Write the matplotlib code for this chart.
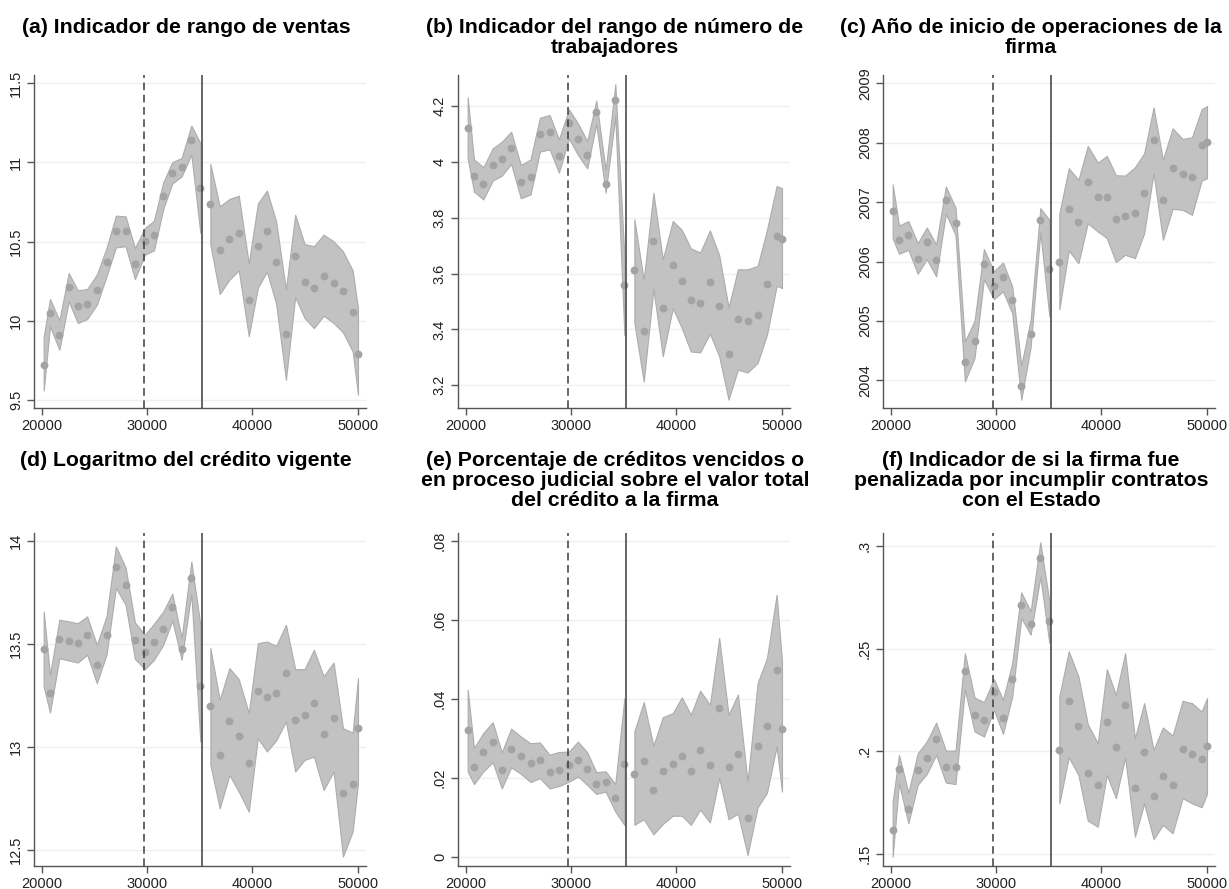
import matplotlib
matplotlib.use("Agg")
import matplotlib.pyplot as plt
import numpy as np

plt.rcParams["font.family"] = ["Liberation Sans", "DejaVu Sans"]

# bin midpoints (left and right of the cutoff)
x_left = [20160, 20760, 21650, 22540, 23400, 24290, 25210, 26130, 27020,
          27940, 28830, 29780, 30640, 31520, 32380, 33270, 34190, 35050]
x_right = [36000, 36890, 37810, 38700, 39650, 40510, 41370, 42250, 43180,
           44060, 44950, 45840, 46760, 47710, 48600, 49520, 50030]

DASHED_X = 29700
CUTOFF_X = 35175

# (a) sales range
a_mean_l = [9.723, 10.049, 9.910, 10.213, 10.091, 10.106, 10.196, 10.369, 10.564,
            10.564, 10.358, 10.503, 10.543, 10.789, 10.932, 10.970, 11.140, 10.838]
a_hi_l = [9.90, 10.137, 10.003, 10.301, 10.192, 10.200, 10.291, 10.459, 10.663,
          10.659, 10.459, 10.585, 10.631, 10.873, 11.000, 11.027, 11.231, 11.121]
a_lo_l = [9.56, 9.965, 9.818, 10.122, 9.986, 10.011, 10.101, 10.280, 10.463,
          10.470, 10.263, 10.417, 10.444, 10.705, 10.865, 10.911, 11.048, 10.554]
a_mean_r = [10.737, 10.444, 10.518, 10.556, 10.133, 10.472, 10.564, 10.373, 9.918,
            10.411, 10.247, 10.209, 10.284, 10.236, 10.186, 10.057, 9.792]
a_hi_r = [10.989, 10.722, 10.768, 10.789, 10.360, 10.739, 10.821, 10.627, 10.196,
          10.669, 10.484, 10.470, 10.543, 10.501, 10.438, 10.318, 10.080]
a_lo_r = [10.480, 10.169, 10.259, 10.318, 9.902, 10.207, 10.310, 10.108, 9.628,
          10.150, 10.017, 9.954, 10.032, 9.986, 9.927, 9.807, 9.534]

# (b) workers range
b_mean_l = [4.121, 3.950, 3.921, 3.988, 4.010, 4.049, 3.929, 3.944, 4.098,
            4.106, 4.020, 4.137, 4.082, 4.024, 4.177, 3.921, 4.220, 3.560]
b_hi_l = [4.230, 4.008, 3.980, 4.048, 4.071, 4.107, 3.988, 4.008, 4.157,
          4.167, 4.080, 4.187, 4.137, 4.074, 4.218, 3.970, 4.277, 3.661]
b_lo_l = [4.012, 3.893, 3.865, 3.932, 3.950, 3.992, 3.869, 3.883, 4.036,
          4.044, 3.961, 4.083, 4.024, 3.976, 4.135, 3.889, 4.161, 3.380]
b_mean_r = [3.612, 3.395, 3.715, 3.475, 3.630, 3.575, 3.505, 3.496, 3.569,
            3.485, 3.312, 3.436, 3.430, 3.451, 3.564, 3.734, 3.724]
b_hi_r = [3.794, 3.577, 3.889, 3.651, 3.788, 3.756, 3.690, 3.675, 3.754,
          3.666, 3.479, 3.615, 3.615, 3.627, 3.756, 3.913, 3.905]
b_lo_r = [3.423, 3.214, 3.544, 3.304, 3.476, 3.405, 3.321, 3.318, 3.385,
          3.304, 3.149, 3.256, 3.246, 3.280, 3.381, 3.556, 3.548]

# (c) start year
c_mean_l = [2006.848, 2006.360, 2006.450, 2006.040, 2006.321, 2006.018, 2007.038,
            2006.657, 2004.308, 2004.667, 2005.967, 2005.586, 2005.738, 2005.357,
            2003.899, 2004.785, 2006.696, 2005.878]
c_hi_l = [2007.30, 2006.606, 2006.68, 2006.31, 2006.573, 2006.29, 2007.262,
          2006.909, 2004.656, 2005.003, 2006.209, 2005.833, 2005.984, 2005.581,
          2004.247, 2005.020, 2006.898, 2006.702]
c_lo_l = [2006.39, 2006.130, 2006.197, 2005.794, 2006.040, 2005.749, 2006.803,
          2006.45, 2003.983, 2004.376, 2005.704, 2005.368, 2005.497, 2005.132,
          2003.675, 2004.561, 2006.489, 2005.076]
c_mean_r = [2005.996, 2006.881, 2006.668, 2007.341, 2007.094, 2007.094, 2006.719,
            2006.775, 2006.825, 2007.161, 2008.041, 2007.033, 2007.571, 2007.470,
            2007.430, 2007.969, 2008.013]
c_hi_r = [2006.81, 2007.571, 2007.374, 2007.946, 2007.666, 2007.778, 2007.453,
          2007.447, 2007.587, 2007.823, 2008.596, 2007.711, 2008.243, 2008.064,
          2008.092, 2008.563, 2008.619]
c_lo_r = [2005.20, 2006.186, 2005.973, 2006.646, 2006.506, 2006.394, 2005.990,
          2006.113, 2006.057, 2006.478, 2007.487, 2006.365, 2006.887, 2006.870,
          2006.786, 2007.363, 2007.402]

# (d) log credit
d_mean_l = [13.477, 13.260, 13.525, 13.514, 13.506, 13.543, 13.397, 13.545, 13.874,
            13.785, 13.520, 13.459, 13.512, 13.574, 13.682, 13.475, 13.820, 13.297]
d_hi_l = [13.658, 13.350, 13.618, 13.610, 13.601, 13.634, 13.496, 13.634, 13.974,
          13.872, 13.605, 13.545, 13.598, 13.658, 13.744, 13.529, 13.900, 13.593]
d_lo_l = [13.294, 13.167, 13.431, 13.420, 13.410, 13.448, 13.310, 13.448, 13.772,
          13.691, 13.427, 13.378, 13.423, 13.496, 13.614, 13.423, 13.744, 13.026]
d_mean_r = [13.201, 12.962, 13.124, 13.054, 12.921, 13.273, 13.245, 13.260, 13.358,
            13.132, 13.156, 13.213, 13.064, 13.141, 12.775, 12.820, 13.094]
d_hi_r = [13.480, 13.229, 13.383, 13.329, 13.164, 13.504, 13.512, 13.491, 13.593,
          13.378, 13.378, 13.472, 13.343, 13.410, 13.091, 13.070, 13.334]
d_lo_r = [12.913, 12.702, 12.864, 12.783, 12.686, 13.043, 12.978, 13.031, 13.124,
          12.881, 12.937, 12.953, 12.791, 12.880, 12.468, 12.589, 12.824]

# (e) share of overdue credit
e_mean_l = [0.0321, 0.0229, 0.0267, 0.0291, 0.0221, 0.0274, 0.0257, 0.0239, 0.0245,
            0.0216, 0.0221, 0.0232, 0.0246, 0.0224, 0.0186, 0.0190, 0.0149, 0.0235]
e_hi_l = [0.0423, 0.0276, 0.0314, 0.0341, 0.0265, 0.0325, 0.0305, 0.0288, 0.0290,
          0.0259, 0.0266, 0.0267, 0.0292, 0.0265, 0.0215, 0.0217, 0.0185, 0.0402]
e_lo_l = [0.0217, 0.0185, 0.0217, 0.0240, 0.0174, 0.0227, 0.0211, 0.0190, 0.0200,
          0.0174, 0.0180, 0.0191, 0.0204, 0.0183, 0.0160, 0.0166, 0.0115, 0.0082]
e_mean_r = [0.0210, 0.0244, 0.0169, 0.0218, 0.0235, 0.0255, 0.0219, 0.0271, 0.0233,
            0.0378, 0.0229, 0.0260, 0.0099, 0.0282, 0.0332, 0.0472, 0.0325]
e_hi_r = [0.0318, 0.0392, 0.0282, 0.0354, 0.0364, 0.0404, 0.0360, 0.0421, 0.0385,
          0.0554, 0.0360, 0.0411, 0.0191, 0.0440, 0.0503, 0.0663, 0.0495]
e_lo_r = [0.0082, 0.0096, 0.0058, 0.0084, 0.0105, 0.0105, 0.0082, 0.0120, 0.0088,
          0.0200, 0.0096, 0.0110, 0.0006, 0.0126, 0.0163, 0.0280, 0.0166]

# (f) penalized firm
f_mean_l = [0.1617, 0.1915, 0.1720, 0.1910, 0.1967, 0.2062, 0.1926, 0.1924, 0.2391,
            0.2178, 0.2153, 0.2288, 0.2162, 0.2352, 0.2714, 0.2620, 0.2943, 0.2633]
f_hi_l = [0.1755, 0.1983, 0.1799, 0.1991, 0.2048, 0.2140, 0.2004, 0.2004, 0.2478,
          0.2262, 0.2240, 0.2352, 0.2251, 0.2430, 0.2774, 0.2682, 0.3018, 0.2730]
f_lo_l = [0.1487, 0.1845, 0.1650, 0.1837, 0.1890, 0.1983, 0.1848, 0.1841, 0.2300,
          0.2097, 0.2072, 0.2202, 0.2085, 0.2267, 0.2649, 0.2568, 0.2849, 0.2527]
f_mean_r = [0.2006, 0.2243, 0.2123, 0.1897, 0.1835, 0.2145, 0.2020, 0.2227, 0.1820,
            0.1996, 0.1785, 0.1880, 0.1838, 0.2010, 0.1989, 0.1962, 0.2028]
f_hi_r = [0.2270, 0.2487, 0.2365, 0.2132, 0.2040, 0.2400, 0.2275, 0.2478, 0.2064,
          0.2235, 0.2007, 0.2116, 0.2077, 0.2246, 0.2235, 0.2194, 0.2259]
f_lo_r = [0.1747, 0.1971, 0.1885, 0.1663, 0.1633, 0.1885, 0.1772, 0.1971, 0.1585,
          0.1747, 0.1572, 0.1642, 0.1601, 0.1772, 0.1747, 0.1728, 0.1793]

titles = [
    "(a) Indicador de rango de ventas",
    "(b) Indicador del rango de número de\ntrabajadores",
    "(c) Año de inicio de operaciones de la\nfirma",
    "(d) Logaritmo del crédito vigente",
    "(e) Porcentaje de créditos vencidos o\nen proceso judicial sobre el valor total\ndel crédito a la firma",
    "(f) Indicador de si la firma fue\npenalizada por incumplir contratos\ncon el Estado",
]

yticks = [
    ([9.5, 10, 10.5, 11, 11.5], ["9.5", "10", "10.5", "11", "11.5"]),
    ([3.2, 3.4, 3.6, 3.8, 4.0, 4.2], ["3.2", "3.4", "3.6", "3.8", "4", "4.2"]),
    ([2004, 2005, 2006, 2007, 2008, 2009], ["2004", "2005", "2006", "2007", "2008", "2009"]),
    ([12.5, 13, 13.5, 14], ["12.5", "13", "13.5", "14"]),
    ([0, 0.02, 0.04, 0.06, 0.08], ["0", ".02", ".04", ".06", ".08"]),
    ([0.15, 0.2, 0.25, 0.3], [".15", ".2", ".25", ".3"]),
]
ylims = [(9.45, 11.55), (3.119, 4.31), (2003.535, 2009.14),
         (12.422, 14.039), (-0.0022, 0.0819), (0.1442, 0.3063)]

panels = [
    (a_mean_l, a_hi_l, a_lo_l, a_mean_r, a_hi_r, a_lo_r),
    (b_mean_l, b_hi_l, b_lo_l, b_mean_r, b_hi_r, b_lo_r),
    (c_mean_l, c_hi_l, c_lo_l, c_mean_r, c_hi_r, c_lo_r),
    (d_mean_l, d_hi_l, d_lo_l, d_mean_r, d_hi_r, d_lo_r),
    (e_mean_l, e_hi_l, e_lo_l, e_mean_r, e_hi_r, e_lo_r),
    (f_mean_l, f_hi_l, f_lo_l, f_mean_r, f_hi_r, f_lo_r),
]

W, H = 1229, 889
fig = plt.figure(figsize=(W / 100, H / 100), dpi=100)

lefts = [34, 458, 883]
tops = [75, 533]
title_cx = [186, 615, 1031]
title_top = [18, 451]
ax_w, ax_h = 332, 333

band_col = "#c2c2c2"
band_edge = "#acacac"
dot_col = "#a3a3a3"
line_col = "#3c3c3c"

for i, data in enumerate(panels):
    row, col = divmod(i, 3)
    left = lefts[col]
    top = tops[row]
    ax = fig.add_axes([left / W, 1 - (top + ax_h) / H, ax_w / W, ax_h / H])
    ml, hl, ll, mr, hr, lr = data

    ax.fill_between(x_left, ll, hl, facecolor=band_col, edgecolor=band_edge, lw=0.8, zorder=2)
    ax.fill_between(x_right, lr, hr, facecolor=band_col, edgecolor=band_edge, lw=0.8, zorder=2)
    ax.scatter(x_left, ml, s=32, color=dot_col, lw=0, zorder=3)
    ax.scatter(x_right, mr, s=32, color=dot_col, lw=0, zorder=3)

    ax.axvline(DASHED_X, color=line_col, lw=1.1, ls=(0, (5, 3)), zorder=4)
    ax.axvline(CUTOFF_X, color=line_col, lw=1.1, zorder=4)

    ax.set_xlim(19240, 50790)
    ax.set_ylim(*ylims[i])
    ax.set_xticks([20000, 30000, 40000, 50000])
    ax.set_xticklabels(["20000", "30000", "40000", "50000"])
    ax.set_yticks(yticks[i][0])
    ax.set_yticklabels(yticks[i][1], rotation=90, va="center")
    ax.grid(axis="y", color="#eaf2f3", lw=1.0, zorder=0)
    ax.set_axisbelow(True)

    for s in ["top", "right"]:
        ax.spines[s].set_visible(False)
    for s in ["left", "bottom"]:
        ax.spines[s].set_color("#555555")
        ax.spines[s].set_linewidth(1.0)
    ax.tick_params(axis="both", length=5, width=1, color="#555555",
                   labelsize=10.5, labelcolor="#222222", pad=3)

    fig.text(title_cx[col] / W, 1 - title_top[row] / H, titles[i],
             ha="center", va="top", fontsize=15.3, fontweight="bold",
             linespacing=1.06)

fig.savefig("out.png", dpi=100)
